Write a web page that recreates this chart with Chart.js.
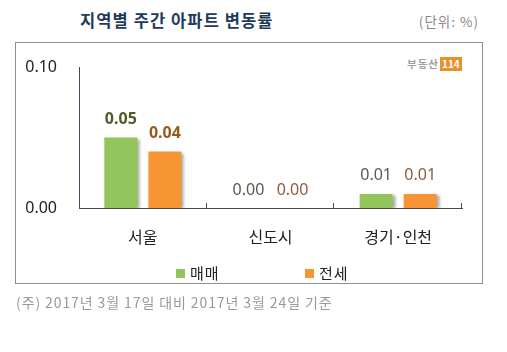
<!DOCTYPE html>
<html>
<head>
<meta charset="utf-8">
<script src="https://cdn.jsdelivr.net/npm/chart.js@4"></script>
<style>
  html, body { margin: 0; padding: 0; background: #fff; }
  body { width: 507px; height: 352px; position: relative; overflow: hidden;
         font-family: "Noto Sans CJK KR", "Noto Sans", sans-serif; }
  .title { position: absolute; left: 80px; top: 8px; font-size: 16.5px; font-weight: bold; color: #1e3b5c; white-space: nowrap; letter-spacing: 1.1px; }
  .unit { position: absolute; right: 28px; top: 11px; font-size: 13.5px; color: #8a8a8a; white-space: nowrap; letter-spacing: 1px; }
  .box { position: absolute; left: 15px; top: 42px; width: 468px; height: 242px; border: 1px solid #8f8f8f; box-sizing: border-box; }
  .logo { position: absolute; left: 407px; top: 49px; height: 14px; white-space: nowrap; }
  .logo .txt { font-size: 10.5px; font-weight: bold; color: #a0a0a0; letter-spacing: 1px; vertical-align: middle; }
  .logo .num { display: inline-block; background: #e8902a; color: #fff; font-size: 10px; font-weight: bold; padding: 0 2px; line-height: 14px; vertical-align: middle; margin-left: 1px; }
  .legend { position: absolute; top: 262px; font-size: 15px; color: #222; white-space: nowrap; letter-spacing: 1px; }
  .legend i { display: inline-block; width: 9px; height: 9px; margin-right: 5px; vertical-align: 1px; }
  .note { position: absolute; left: 16px; top: 292px; font-size: 14px; color: #9a9a9a; white-space: nowrap; letter-spacing: 0.9px; }
  #chart { position: absolute; left: 0; top: 0; }
</style>
</head>
<body>
<div class="title">지역별 주간 아파트 변동률</div>
<div class="unit">(단위: %)</div>
<div class="box"></div>
<div class="logo"><span class="txt">부동산</span><span class="num">114</span></div>
<canvas id="chart" width="507" height="352"></canvas>
<div class="legend" style="left:176px"><i style="background:#92c55b"></i>매매</div>
<div class="legend" style="left:305px"><i style="background:#f79535"></i>전세</div>
<div class="note">(주) 2017년 3월 17일 대비 2017년 3월 24일 기준</div>

<script>
const regions = ["서울", "신도시", "경기·인천"];
const saleValues = [0.05, 0.00, 0.01];
const rentValues = [0.04, 0.00, 0.01];
const seriesNames = ["매매", "전세"];
const yTicks = [0, 0.10];

const BAR_COLORS = ["#92c55b", "#f79535"];
// value label colours: [dataset][category]
const LABEL_COLORS = [
  ["#4e5d29", "#5b5b4c", "#5b5b4c"],
  ["#9a5a1d", "#8c5c3c", "#8c5c3c"]
];

const barShadow = {
  id: "barShadow",
  beforeDatasetsDraw(chart) {
    const ctx = chart.ctx;
    ctx.save();
    ctx.shadowColor = "rgba(0, 0, 0, 0.35)";
    ctx.shadowOffsetX = 3;
    ctx.shadowOffsetY = 1;
    ctx.shadowBlur = 3;
  },
  afterDatasetsDraw(chart) {
    chart.ctx.restore();
  }
};

const valueLabels = {
  id: "valueLabels",
  afterDatasetsDraw(chart) {
    const ctx = chart.ctx;
    ctx.save();
    ctx.textAlign = "center";
    ctx.textBaseline = "middle";
    chart.data.datasets.forEach((ds, di) => {
      chart.getDatasetMeta(di).data.forEach((bar, i) => {
        const bold = i === 0;
        ctx.font = (bold ? "bold " : "") + "16px 'Noto Sans', 'Noto Sans CJK KR', sans-serif";
        ctx.fillStyle = LABEL_COLORS[di][i];
        ctx.fillText(ds.data[i].toFixed(2), bar.x, bar.y - 18);
      });
    });
    ctx.restore();
  }
};

const axisTicks = {
  id: "axisTicks",
  afterDraw(chart) {
    const x = chart.scales.x;
    const ctx = chart.ctx;
    const n = x.ticks.length;
    ctx.save();
    ctx.strokeStyle = "#3d4a5c";
    ctx.lineWidth = 1;
    for (let i = 1; i <= n; i++) {
      const px = Math.round(x.left + (x.right - x.left) * i / n) - 0.5;
      ctx.beginPath();
      ctx.moveTo(px, x.top - 5);
      ctx.lineTo(px, x.top);
      ctx.stroke();
    }
    ctx.restore();
  }
};

new Chart(document.getElementById("chart"), {
  type: "bar",
  data: {
    labels: regions,
    datasets: [
      { label: seriesNames[0], data: saleValues, backgroundColor: BAR_COLORS[0] },
      { label: seriesNames[1], data: rentValues, backgroundColor: BAR_COLORS[1] }
    ]
  },
  options: {
    responsive: false,
    animation: false,
    events: [],
    categoryPercentage: 0.69,
    barPercentage: 0.75,
    layout: { padding: { left: 16, right: 45, top: 67, bottom: 104 } },
    plugins: {
      legend: { display: false },
      tooltip: { enabled: false }
    },
    scales: {
      x: {
        grid: { display: false, drawTicks: false },
        border: { display: true, color: "#3d4a5c", width: 1 },
        ticks: {
          padding: 19,
          color: "#222",
          font: { family: "'Noto Sans CJK KR', sans-serif", size: 16 }
        },
        afterFit: scale => { scale.height = 40; }
      },
      y: {
        min: yTicks[0],
        max: yTicks[yTicks.length - 1],
        grid: { display: false, drawTicks: false },
        border: { display: true, color: "#3d4a5c", width: 1 },
        afterBuildTicks: scale => { scale.ticks = yTicks.map(v => ({ value: v })); },
        ticks: {
          padding: 22,
          color: "#222",
          font: { family: "'Noto Sans', sans-serif", size: 16 },
          callback: v => v.toFixed(2)
        },
        afterFit: scale => { scale.width = 63; }
      }
    }
  },
  plugins: [barShadow, valueLabels, axisTicks]
});
</script>
</body>
</html>
